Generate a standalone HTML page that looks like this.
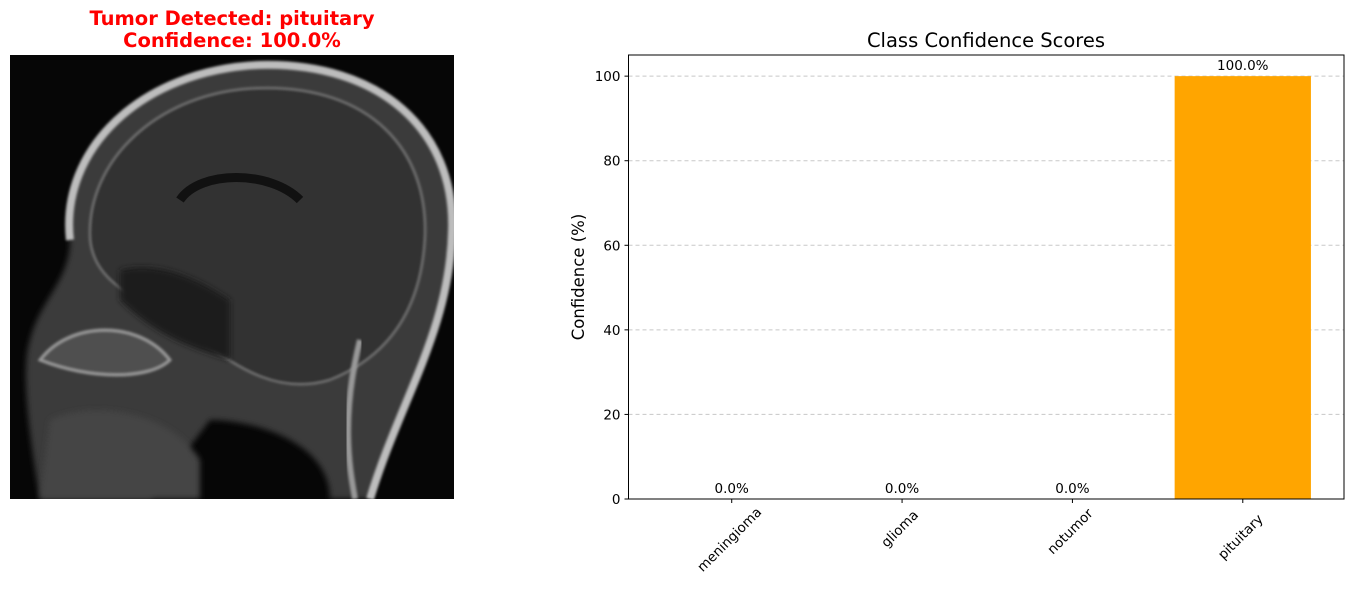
<!DOCTYPE html>
<html><head><meta charset="utf-8"><style>
body{margin:0;background:#fff;width:1354px;height:590px;overflow:hidden;font-family:"DejaVu Sans","Liberation Sans",sans-serif}
</style></head><body>
<svg width="1354" height="590" xmlns="http://www.w3.org/2000/svg">
<defs>
<filter id="bl"><feGaussianBlur stdDeviation="3"/></filter>
<filter id="bl2"><feGaussianBlur stdDeviation="1.2"/></filter>
</defs>
<g font-weight="bold" font-size="19.5" fill="#ff0000" text-anchor="middle">
<text x="232" y="25">Tumor Detected: pituitary</text>
<text x="232" y="47">Confidence: 100.0%</text>
</g>
<g>
<rect x="10" y="55" width="444" height="444" fill="#060606"/>
<g clip-path="url(#clipimg)">
<clipPath id="clipimg"><rect x="10" y="55" width="444" height="444"/></clipPath>
<path d="M70 240 C60 150 140 70 260 65 C380 62 455 130 452 230 C450 330 400 400 370 499 L330 499 C330 440 250 420 210 420 L150 499 L40 499 C30 440 20 370 30 340 C40 300 70 280 70 240 Z" fill="#3a3a3a" filter="url(#bl)"/>
<path d="M70 240 C60 150 140 70 260 65 C380 62 455 130 452 230 C450 330 400 400 370 499" fill="none" stroke="#bdbdbd" stroke-width="8" filter="url(#bl2)"/>
<path d="M90 240 C85 160 160 90 260 88 C370 85 430 150 425 240 C420 320 380 360 330 380 C280 395 240 370 200 340 C150 300 95 290 90 240 Z" fill="#333" stroke="#777" stroke-width="2" filter="url(#bl2)"/>
<path d="M180 200 C200 170 270 170 300 200" fill="none" stroke="#111" stroke-width="9"/>
<path d="M40 360 C70 320 140 320 170 360 C150 380 90 380 40 360Z" fill="#505050" stroke="#999" stroke-width="3" filter="url(#bl2)"/>
<path d="M120 270 C160 260 200 280 230 300 L230 360 C200 350 160 340 120 300Z" fill="#1a1a1a" filter="url(#bl)"/>
<path d="M50 420 C90 400 170 410 200 460 L200 499 L40 499Z" fill="#444" filter="url(#bl)"/>
<path d="M360 340 C340 420 350 470 355 499" fill="none" stroke="#999" stroke-width="6" filter="url(#bl2)"/>
</g>
</g>
<text x="986" y="47" font-size="19.5" text-anchor="middle" fill="#000">Class Confidence Scores</text>
<g id="chart"></g>
<text transform="translate(584,277) rotate(-90)" font-size="16.5" text-anchor="middle">Confidence (%)</text>
</svg>
<script>
const categories=["meningioma","glioma","notumor","pituitary"];
const values=[0.0,0.0,0.0,100.0];
const yTicks=[0,20,40,60,80,100];
const L=628.5,R=1344,T=55,B=499;
const yMax=105;
const ns="http://www.w3.org/2000/svg";
const g=document.getElementById('chart');
const n=categories.length;
const bandW=(R-L)/(n-1+0.8+0.4);
function xs(i){return L+bandW*(0.6+i)+1;}
function ys(v){return B-(v/yMax)*(B-T);}
function mk(t,a){const e=document.createElementNS(ns,t);for(const k in a)e.setAttribute(k,a[k]);g.appendChild(e);return e;}
yTicks.forEach(v=>{
 if(v>0){const gl=mk('line',{x1:L,x2:R,y1:ys(v),y2:ys(v),stroke:'#c8c8c8','stroke-dasharray':'4,3','stroke-width':1});
 
 }
 const tk=mk('line',{x1:L-4,x2:L,y1:ys(v),y2:ys(v),stroke:'#000'});
 
 
 const t=mk('text',{x:L-8,y:ys(v)+5,'font-size':13.5,'text-anchor':'end'});t.textContent=v;
 
 
});
categories.forEach((c,i)=>{
 const cx=xs(i),w=bandW*0.8;
 const b=mk('rect',{x:cx-w/2,y:ys(values[i]),width:w,height:B-ys(values[i]),fill:'#ffa500'});
 
 
 const lb=mk('text',{x:cx,y:ys(values[i])-6,'font-size':13.5,'text-anchor':'middle'});lb.textContent=values[i].toFixed(1)+'%';
 
 
 const tk=mk('line',{x1:cx,x2:cx,y1:B,y2:B+4,stroke:'#000'});
 
 
 const len=c.length*7.6;
 const t=mk('text',{transform:`translate(${cx-2},${B+10+len*0.707/2+4}) rotate(-45)`,'font-size':13.5,'text-anchor':'middle','dominant-baseline':'central'});t.textContent=c;
 
 
});
const fr=mk('rect',{x:L,y:T,width:R-L,height:B-T,fill:'none',stroke:'#000','stroke-width':1});


</script>
</body></html>
